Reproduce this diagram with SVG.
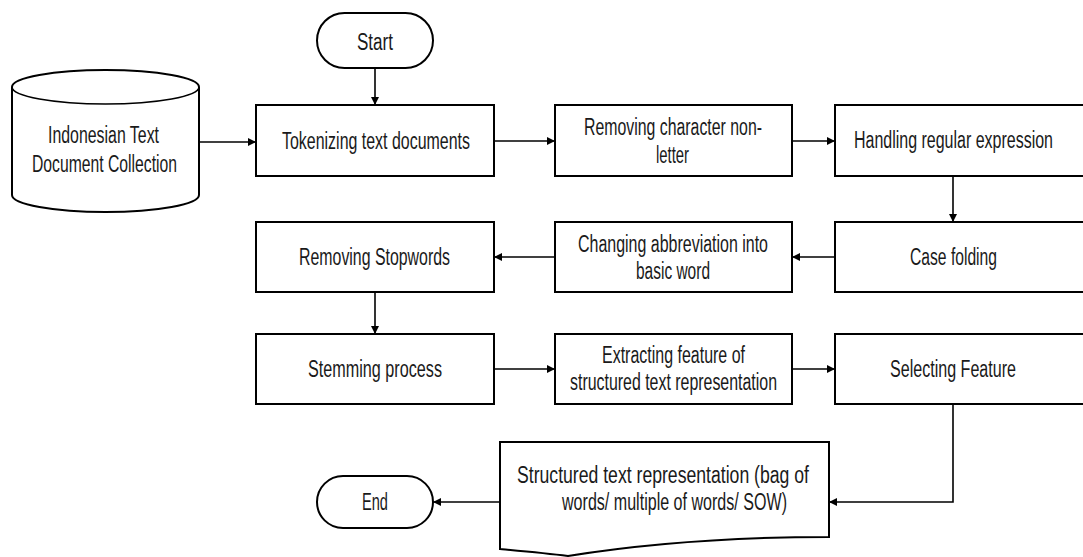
<svg xmlns="http://www.w3.org/2000/svg" width="1083" height="557" viewBox="0 0 1083 557">
<defs>
<style>
.box{fill:#fff;stroke:#000;stroke-width:2}
.ln{fill:none;stroke:#000;stroke-width:1.6}
text{font-family:"Liberation Sans",Arial,sans-serif;font-size:23px;fill:#1a1a1a}
</style>
<marker id="ah" viewBox="0 0 10 10" refX="10" refY="5" markerWidth="8" markerHeight="8" markerUnits="userSpaceOnUse" orient="auto">
<path d="M0,0 L10,5 L0,10 Z" fill="#000"/>
</marker>
</defs>
<rect width="1083" height="557" fill="#fff"/>
<g id="connectors">
<path class="ln" d="M375,68 V105" marker-end="url(#ah)"/>
<path class="ln" d="M199,142 H256" marker-end="url(#ah)"/>
<path class="ln" d="M494,141 H555" marker-end="url(#ah)"/>
<path class="ln" d="M792,141 H835" marker-end="url(#ah)"/>
<path class="ln" d="M953,176 V222" marker-end="url(#ah)"/>
<path class="ln" d="M835,257 H792" marker-end="url(#ah)"/>
<path class="ln" d="M555,257 H494" marker-end="url(#ah)"/>
<path class="ln" d="M375,292 V334" marker-end="url(#ah)"/>
<path class="ln" d="M494,369 H555" marker-end="url(#ah)"/>
<path class="ln" d="M792,369 H835" marker-end="url(#ah)"/>
<path class="ln" d="M953,404 V502 H829" marker-end="url(#ah)"/>
<path class="ln" d="M500,502 H433" marker-end="url(#ah)"/>
</g>
<g id="start">
<rect class="box" x="317" y="13" width="116" height="55" rx="27.5"/>
<text x="357" y="50" textLength="36" lengthAdjust="spacingAndGlyphs">Start</text>
</g>
<g id="collection">
<path class="box" d="M12,87 V195 A93.5,17 0 0 0 199,195 V87 A93.5,17 0 0 0 12,87 Z"/>
<path class="ln" stroke-width="2" d="M12,87 A93.5,17 0 0 0 199,87"/>
<text x="48" y="143" textLength="111" lengthAdjust="spacingAndGlyphs">Indonesian Text</text>
<text x="32" y="172" textLength="145" lengthAdjust="spacingAndGlyphs">Document Collection</text>
</g>
<g id="tokenizing">
<rect class="box" x="256" y="105" width="238" height="71"/>
<text x="282" y="149" textLength="188" lengthAdjust="spacingAndGlyphs">Tokenizing text documents</text>
</g>
<g id="removing-char">
<rect class="box" x="555" y="105" width="237" height="71"/>
<text x="584" y="135" textLength="178" lengthAdjust="spacingAndGlyphs">Removing character non-</text>
<text x="656" y="163" textLength="33" lengthAdjust="spacingAndGlyphs">letter</text>
</g>
<g id="handling">
<rect class="box" x="835" y="105" width="260" height="71"/>
<text x="854" y="148" textLength="199" lengthAdjust="spacingAndGlyphs">Handling regular expression</text>
</g>
<g id="case-folding">
<rect class="box" x="835" y="222" width="260" height="70"/>
<text x="910" y="265" textLength="87" lengthAdjust="spacingAndGlyphs">Case folding</text>
</g>
<g id="changing">
<rect class="box" x="555" y="222" width="237" height="70"/>
<text x="578" y="252" textLength="190" lengthAdjust="spacingAndGlyphs">Changing abbreviation into</text>
<text x="636" y="279" textLength="74" lengthAdjust="spacingAndGlyphs">basic word</text>
</g>
<g id="stopwords">
<rect class="box" x="256" y="222" width="238" height="70"/>
<text x="299" y="265" textLength="151" lengthAdjust="spacingAndGlyphs">Removing Stopwords</text>
</g>
<g id="stemming">
<rect class="box" x="256" y="334" width="238" height="70"/>
<text x="308" y="377" textLength="134" lengthAdjust="spacingAndGlyphs">Stemming process</text>
</g>
<g id="extracting">
<rect class="box" x="555" y="334" width="237" height="70"/>
<text x="602" y="363" textLength="143" lengthAdjust="spacingAndGlyphs">Extracting feature of</text>
<text x="570" y="390" textLength="207" lengthAdjust="spacingAndGlyphs">structured text representation</text>
</g>
<g id="selecting">
<rect class="box" x="835" y="334" width="260" height="70"/>
<text x="890" y="377" textLength="126" lengthAdjust="spacingAndGlyphs">Selecting Feature</text>
</g>
<g id="representation">
<path class="box" d="M500,442 H829 V537 C740,537 650,543 568,556 C545,553 522,551 500,549 Z"/>
<text x="517" y="483" textLength="292" lengthAdjust="spacingAndGlyphs">Structured text representation  (bag of</text>
<text x="562" y="510" textLength="225" lengthAdjust="spacingAndGlyphs">words/ multiple  of words/ SOW)</text>
</g>
<g id="end">
<rect class="box" x="317" y="476" width="116" height="52" rx="26"/>
<text x="362" y="510" textLength="26" lengthAdjust="spacingAndGlyphs">End</text>
</g>
</svg>
